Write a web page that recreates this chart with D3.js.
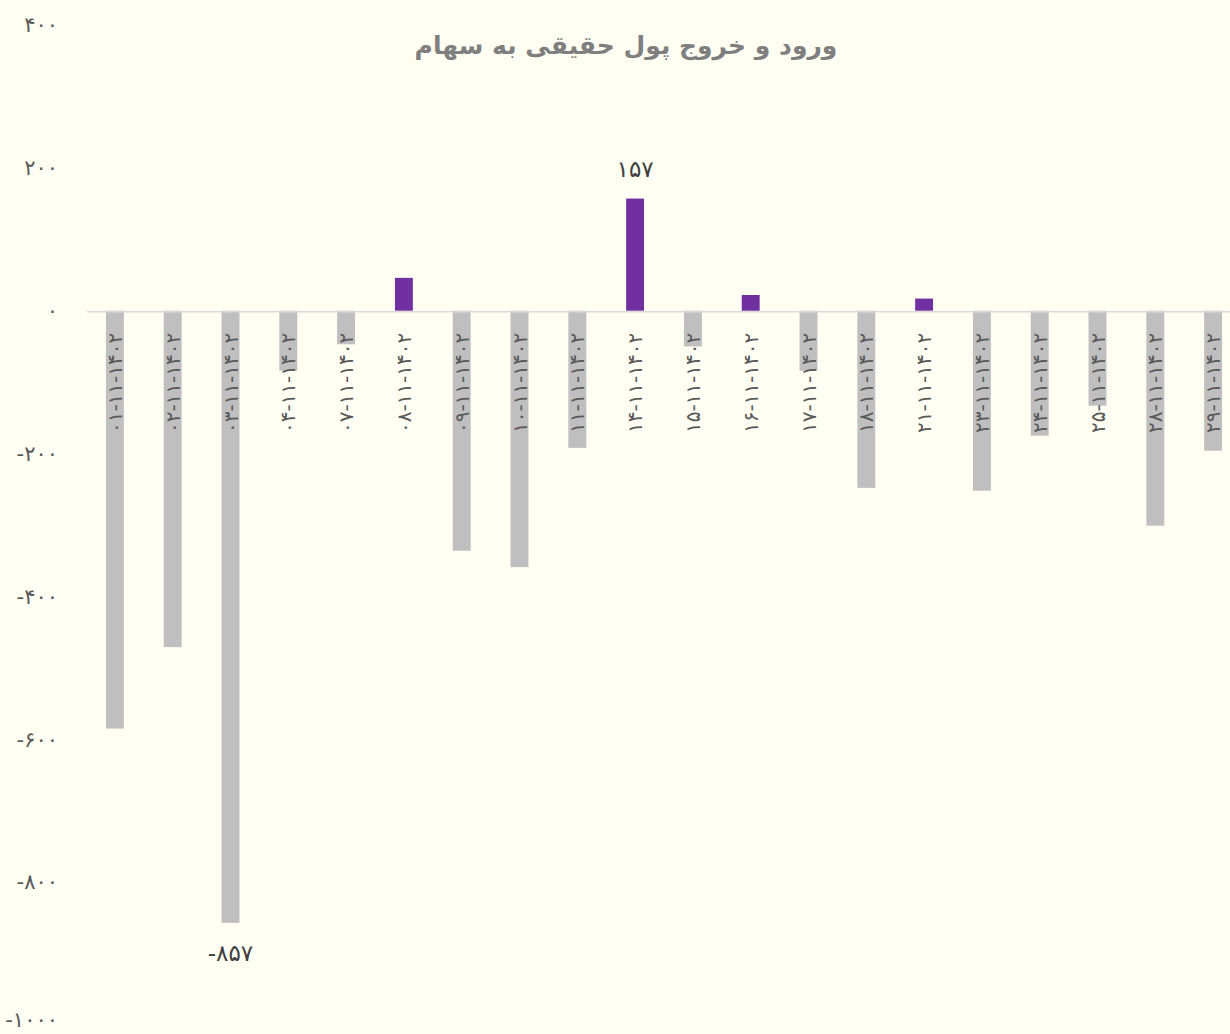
<!DOCTYPE html>
<html>
<head>
<meta charset="utf-8">
<script src="https://cdn.jsdelivr.net/npm/d3@7"></script>
<style>
  body { margin: 0; background: #fffef2; }
  svg { display: block; font-family: "DejaVu Sans", sans-serif; }
</style>
</head>
<body>
<script>
// days of month 11 (Bahman) 1402
const days = ["01", "02", "03", "04", "07", "08", "09", "10", "11", "14",
              "15", "16", "17", "18", "21", "23", "24", "25", "28", "29"];
const values = [-585, -471, -857, -84, -47, 46, -336, -359, -192, 157,
                -50, 22, -84, -248, 17, -252, -175, -133, -301, -196];
const yTicks = [400, 200, 0, -200, -400, -600, -800, -1000];
const labelled = [2, 9]; // indexes with value labels

const title = "ورود و خروج پول حقیقی به سهام";

const w = 1230, h = 1034;

// persian digits
const fa = s => String(s).replace(/\d/g, d => "۰۱۲۳۴۵۶۷۸۹"[d]);

const data = days.map((d, i) => ({day: d, label: fa(d + "-11-1402"), value: values[i]}));

let svg = d3.select("body")
    .append("svg")
    .attr("width", w)
    .attr("height", h);

svg.append("rect")
    .attr("width", w)
    .attr("height", h)
    .attr("fill", "#fffef2");

let x = d3.scaleBand()
    .domain(data.map(d => d.label))
    .range([86, 1242])
    .paddingInner(0.69)
    .paddingOuter(0.345);

let y = d3.scaleLinear()
    .domain([-1000, 400])
    .range([1025, 25]);

// y axis labels only
let yAxis = g => g
    .attr("transform", "translate(58,0)")
    .call(d3.axisLeft(y).tickValues(yTicks).tickSize(0).tickPadding(0)
        .tickFormat(v => v < 0 ? "-" + fa(-v) : fa(v)))
    .call(g => g.select(".domain").remove())
    .call(g => g.selectAll("text")
        .attr("fill", "#595959")
        .attr("font-size", 21)
        .attr("font-family", "DejaVu Sans, sans-serif")
        .attr("direction", "ltr")
        .attr("dy", v => v === -1000 ? "0.05em" : "0.32em"));

svg.append("g").call(yAxis);

svg.append("g")
    .selectAll("rect")
    .data(data)
    .join("rect")
    .attr("x", d => x(d.label))
    .attr("width", x.bandwidth())
    .attr("y", d => y(Math.max(0, d.value)))
    .attr("height", d => Math.abs(y(d.value) - y(0)))
    .attr("fill", d => d.value > 0 ? "#7030a0" : "#bfbfbf");

// zero line
svg.append("line")
    .attr("x1", 87)
    .attr("x2", w)
    .attr("y1", y(0) + 1)
    .attr("y2", y(0) + 1)
    .attr("stroke", "#d9d9d9")
    .attr("stroke-width", 1.5);

// category labels, rotated
svg.append("g")
    .selectAll("text")
    .data(data)
    .join("text")
    .attr("transform", d => `translate(${x(d.label) + x.bandwidth() / 2 + 7},${y(0) + 22}) rotate(-90)`)
    .attr("text-anchor", "end")
    .attr("direction", "ltr")
    .attr("font-size", 20)
    .attr("fill", "#595959")
    .text(d => d.label);

// value labels
svg.append("g")
    .selectAll("text")
    .data(labelled.map(i => data[i]))
    .join("text")
    .attr("x", d => x(d.label) + x.bandwidth() / 2)
    .attr("y", d => d.value > 0 ? y(d.value) - 22 : y(d.value) + 38)
    .attr("text-anchor", "middle")
    .attr("direction", "ltr")
    .attr("font-size", 23)
    .attr("fill", "#404040")
    .text(d => d.value < 0 ? "-" + fa(-d.value) : fa(d.value));

svg.append("text")
    .attr("x", 626)
    .attr("y", 54)
    .attr("text-anchor", "middle")
    .attr("direction", "rtl")
    .attr("font-size", 25)
    .attr("font-weight", "bold")
    .attr("fill", "#7f7f7f")
    .text(title);
</script>
</body>
</html>
